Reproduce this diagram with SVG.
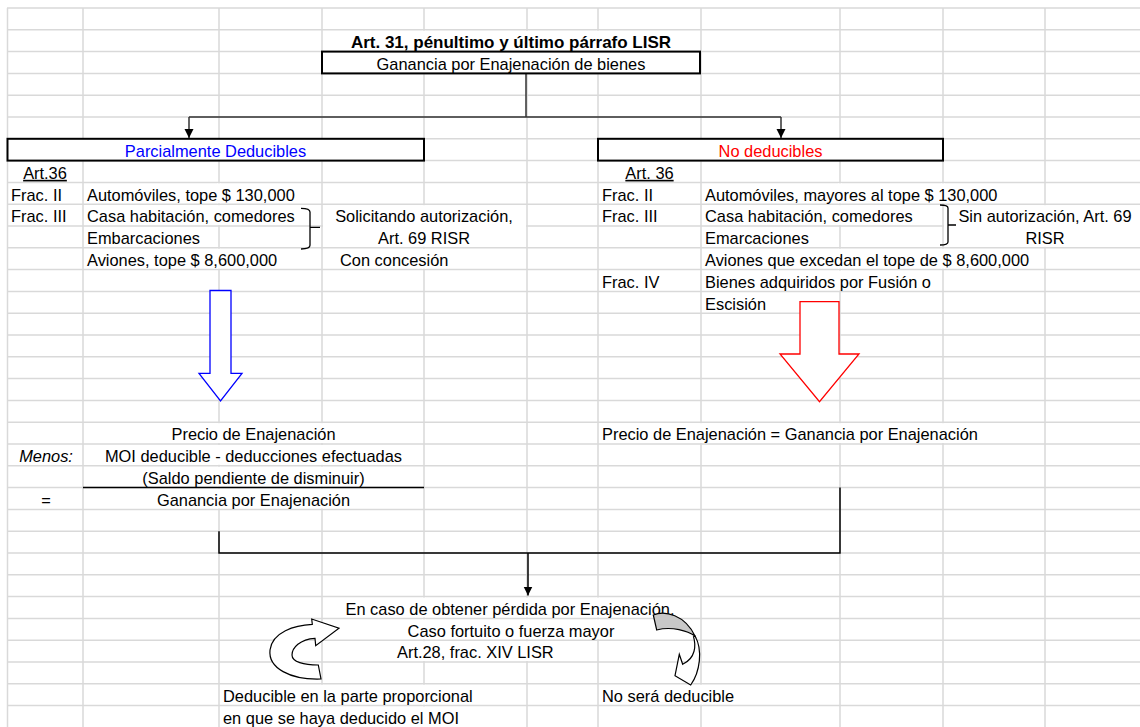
<svg xmlns="http://www.w3.org/2000/svg" width="1140" height="727" viewBox="0 0 1140 727">
<style>
.g{stroke:#d9d9d9;stroke-width:1.5;fill:none}
.m{fill:#fff}
.t{font-family:"Liberation Sans",Arial,sans-serif;font-size:16.4px;fill:#000}
.c{text-anchor:middle}
.b{font-weight:bold;font-size:17px}
.u{text-decoration:underline}
.box{fill:#fff;stroke:#000;stroke-width:2}
.ln{stroke:#000;stroke-width:1.5;fill:none}
.cn{stroke:#333;stroke-width:1.5;fill:none}
.br{stroke:#000;stroke-width:1.3;fill:none}
</style>
<defs>
<marker id="ah" viewBox="0 0 10 10" refX="10" refY="5" markerWidth="9" markerHeight="10" markerUnits="userSpaceOnUse" orient="auto">
<path d="M0,0 L10,5 L0,10 Z" fill="#000"/>
</marker>
</defs>
<rect width="1140" height="727" fill="#fff"/>
<g id="grid" class="g">
<path d="M7,8H1140M7,29.8H1140M7,51.6H1140M7,73.4H1140M7,95.2H1140M7,117H1140M7,138.8H1140M7,160.6H1140M7,182.4H1140M7,204.2H1140M7,226H1140M7,247.8H1140M7,269.6H1140M7,291.4H1140M7,313.2H1140M7,335H1140M7,356.8H1140M7,378.6H1140M7,400.4H1140M7,422.2H1140M7,444H1140M7,465.8H1140M7,487.6H1140M7,509.4H1140M7,531.2H1140M7,553H1140M7,574.8H1140M7,596.6H1140M7,618.4H1140M7,640.2H1140M7,662H1140M7,683.8H1140M7,705.6H1140"/>
<path d="M7.5,8V727M83,8V727M219,8V727M322,8V727M424,8V727M527,8V727M598,8V727M701,8V727M840,8V727M943,8V727M1045,8V727"/>
</g>
<g id="masks" class="m">
<rect x="422" y="30.8" width="4" height="19.8"/><rect x="525" y="30.8" width="4" height="19.8"/><rect x="596" y="30.8" width="4" height="19.8"/>
<rect x="217" y="183.4" width="4" height="19.8"/><rect x="838" y="183.4" width="4" height="19.8"/><rect x="941" y="183.4" width="4" height="19.8"/>
<rect x="217" y="205.2" width="4" height="19.8"/><rect x="838" y="205.2" width="4" height="19.8"/>
<rect x="323" y="205.2" width="203" height="41.6"/><rect x="944" y="205.2" width="196" height="41.6"/>
<rect x="217" y="248.8" width="4" height="19.8"/><rect x="422" y="248.8" width="4" height="19.8"/><rect x="838" y="248.8" width="4" height="19.8"/><rect x="941" y="248.8" width="4" height="19.8"/>
<rect x="838" y="270.6" width="4" height="19.8"/>
<rect x="217" y="423.2" width="4" height="19.8"/><rect x="320" y="423.2" width="4" height="19.8"/><rect x="699" y="423.2" width="4" height="19.8"/><rect x="838" y="423.2" width="4" height="19.8"/><rect x="941" y="423.2" width="4" height="19.8"/>
<rect x="217" y="445" width="4" height="19.8"/><rect x="320" y="445" width="4" height="19.8"/>
<rect x="217" y="466.8" width="4" height="19.8"/><rect x="320" y="466.8" width="4" height="19.8"/>
<rect x="217" y="488.6" width="4" height="19.8"/><rect x="320" y="488.6" width="4" height="19.8"/>
<rect x="422" y="597.6" width="4" height="19.8"/><rect x="525" y="597.6" width="4" height="19.8"/><rect x="596" y="597.6" width="4" height="19.8"/>
<rect x="422" y="619.4" width="4" height="19.8"/><rect x="525" y="619.4" width="4" height="19.8"/><rect x="596" y="619.4" width="4" height="19.8"/>
<rect x="422" y="641.2" width="4" height="19.8"/><rect x="525" y="641.2" width="4" height="19.8"/>
<rect x="320" y="684.8" width="4" height="19.8"/><rect x="422" y="684.8" width="4" height="19.8"/><rect x="699" y="684.8" width="4" height="19.8"/>
<rect x="320" y="706.6" width="4" height="20.4"/><rect x="422" y="706.6" width="4" height="20.4"/>
</g>
<g id="connectors">
<path class="cn" d="M526,73.4V117M189,117H781"/>
<path class="cn" d="M189,117V138" marker-end="url(#ah)"/>
<path class="cn" d="M781,117V138" marker-end="url(#ah)"/>
<path class="ln" d="M219,531.2V553H840V487.6"/>
<path class="ln" d="M528,553V595.5" marker-end="url(#ah)"/>
</g>
<g id="n-title">
<text class="t b c" x="511" y="48">Art. 31, pénultimo y último párrafo LISR</text>
</g>
<g id="n-ganancia">
<rect class="box" x="322" y="51.6" width="378" height="21.8"/>
<text class="t c" x="511" y="69.8">Ganancia por Enajenación de bienes</text>
</g>
<g id="n-parcial">
<rect class="box" x="7.5" y="138.8" width="416.5" height="21.8"/>
<text class="t c" x="215.5" y="157" style="fill:#0000ff">Parcialmente Deducibles</text>
</g>
<g id="n-nodeduc">
<rect class="box" x="598" y="138.8" width="345" height="21.8"/>
<text class="t c" x="770.5" y="157" style="fill:#ff0000">No deducibles</text>
</g>
<g id="n-left-list">
<text class="t c u" x="45" y="178.8">Art.36</text>
<text class="t" x="11" y="200.6">Frac. II</text>
<text class="t" x="87" y="200.6">Automóviles, tope $ 130,000</text>
<text class="t" x="11" y="222.4">Frac. III</text>
<text class="t" x="87" y="222.4">Casa habitación, comedores</text>
<text class="t" x="87" y="244.2">Embarcaciones</text>
<text class="t" x="87" y="266">Aviones, tope $ 8,600,000</text>
<path class="br" d="M301,208.3Q310,208.3 310,212V245.3Q310,249 301,249M310,227.3H320"/>
<text class="t c" x="424" y="222.4">Solicitando autorización,</text>
<text class="t c" x="424" y="244.2">Art. 69 RISR</text>
<text class="t" x="340" y="266">Con concesión</text>
</g>
<g id="n-right-list">
<text class="t c u" x="649.5" y="178.8">Art. 36</text>
<text class="t" x="602" y="200.6">Frac. II</text>
<text class="t" x="705" y="200.6">Automóviles, mayores al tope $ 130,000</text>
<text class="t" x="602" y="222.4">Frac. III</text>
<text class="t" x="705" y="222.4">Casa habitación, comedores</text>
<text class="t" x="705" y="244.2">Emarcaciones</text>
<text class="t" x="705" y="266">Aviones que excedan el tope de $ 8,600,000</text>
<text class="t" x="602" y="287.8">Frac. IV</text>
<text class="t" x="705" y="287.8">Bienes adquiridos por Fusión o</text>
<text class="t" x="705" y="309.6">Escisión</text>
<path class="br" d="M940,205Q948,205 948,208V242Q948,245 940,245M948,225H956"/>
<text class="t c" x="1045" y="222.4">Sin autorización, Art. 69</text>
<text class="t c" x="1045" y="244.2">RISR</text>
</g>
<g id="n-blue-arrow">
<path d="M210,290.5H231V373.3H242L220.5,401L199,373.3H210Z" fill="#fff" stroke="#0000ff" stroke-width="1.3"/>
</g>
<g id="n-red-arrow">
<path d="M800,301.7H839V354H859L819.5,401.7L780,354H800Z" fill="#fff" stroke="#ff0000" stroke-width="1.3"/>
</g>
<g id="n-left-calc">
<text class="t c" x="253.5" y="440.4">Precio de Enajenación</text>
<text class="t c" x="46" y="462.2" font-style="italic">Menos:</text>
<text class="t c" x="253.5" y="462.2">MOI deducible - deducciones efectuadas</text>
<text class="t c" x="253.5" y="484">(Saldo pendiente de disminuir)</text>
<path class="ln" d="M83,487.6H424"/>
<text class="t c" x="46" y="505.8">=</text>
<text class="t c" x="253.5" y="505.8">Ganancia por Enajenación</text>
</g>
<g id="n-right-calc">
<text class="t" x="602" y="440.4">Precio de Enajenación = Ganancia por Enajenación</text>
</g>
<g id="n-perdida">
<text class="t c" x="510" y="614.8">En caso de obtener pérdida por Enajenación.</text>
<text class="t c" x="511" y="636.6">Caso fortuito o fuerza mayor</text>
<text class="t" x="397" y="658.4">Art.28, frac. XIV LISR</text>
</g>
<g id="n-curved-left">
<path d="M321,679C290,680 268,668 270,650C272,632 295,625 312.3,624.3L311.7,619L339,628.3L315.7,645.7L315,638.3C300,639 292,648 292,655C292,662 304,665 318.3,665Z" fill="#fff" stroke="#000" stroke-width="1.2"/>
</g>
<g id="n-curved-right">
<path d="M653.3,615C665,610 685,615 695,636C688,631 672,626 656.7,630Z" fill="#c8c8c8" stroke="#000" stroke-width="1.2"/>
<path d="M693.5,636.7C696,645 696,658 682.7,664.3L679.3,654.3L675,675.7L690.7,685C700,672 703,650 695,636Z" fill="#fff" stroke="#000" stroke-width="1.2"/>
</g>
<g id="n-deducible">
<text class="t" x="223" y="702">Deducible en la parte proporcional</text>
<text class="t" x="223" y="723.8">en que se haya deducido el MOI</text>
</g>
<g id="n-nosera">
<text class="t" x="602" y="702">No será deducible</text>
</g>
</svg>
